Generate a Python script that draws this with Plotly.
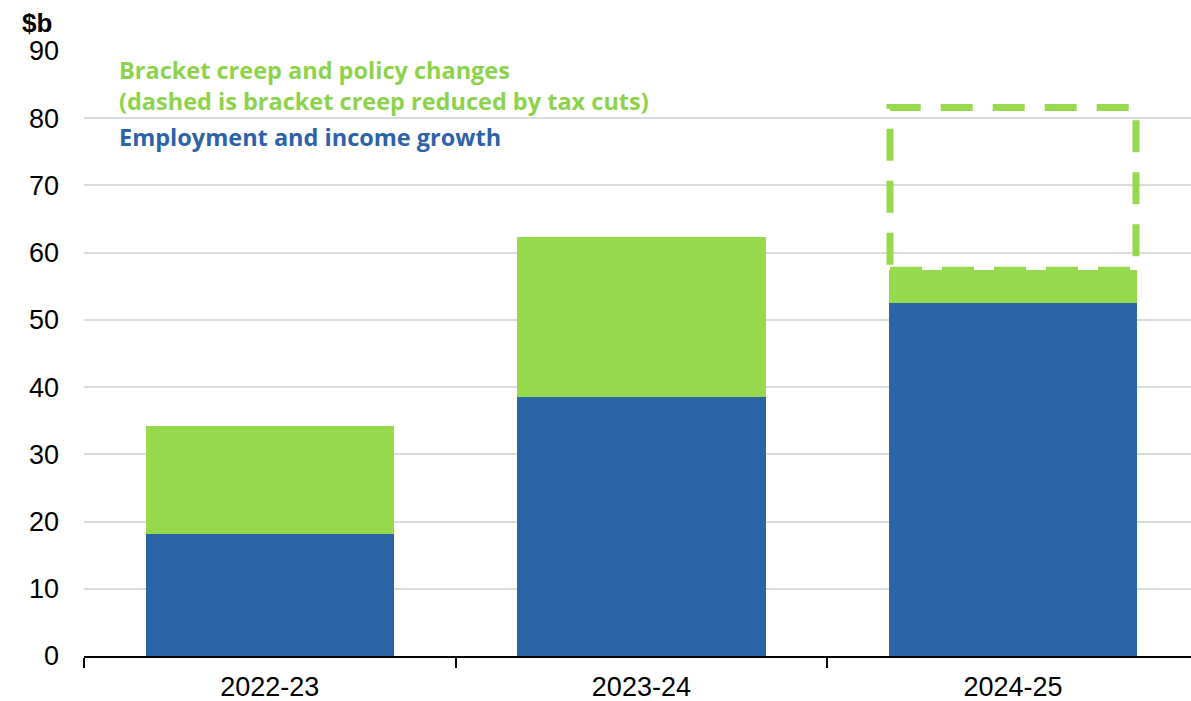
import plotly.graph_objects as go

years = ["2022-23", "2023-24", "2024-25"]
employment_income = [18.1, 38.5, 52.5]
bracket_policy = [16.1, 23.8, 4.9]
bracket_creep_gross = [None, None, 81.6]

BLUE = "#2c64a8"
GREEN = "#97d94c"
BAR_W = 0.668

fig = go.Figure()
fig.add_bar(x=years, y=employment_income, marker=dict(color=BLUE, line=dict(width=0)),
            width=BAR_W, name="Employment and income growth")
fig.add_bar(x=years, y=bracket_policy, marker=dict(color=GREEN, line=dict(width=0)),
            width=BAR_W, name="Bracket creep and policy changes")

# dashed outline for bracket creep before tax cuts
for i, v in enumerate(bracket_creep_gross):
    if v is None:
        continue
    base = employment_income[i] + bracket_policy[i]
    fig.add_shape(type="rect", xref="x", yref="y",
                  x0=i - BAR_W / 2 + 0.003, x1=i + BAR_W / 2 - 0.003, y0=base, y1=v,
                  line=dict(color=GREEN, width=7, dash="32px,20px"),
                  fillcolor="rgba(0,0,0,0)", layer="above")

W0 = 84
PW = 1191 - 84
PH = 656 - 51


def px(xp):
    return (xp - W0) / PW


def py(yp):
    return 1 - (yp - 51) / PH


fig.add_annotation(text="<b>$b</b>", xref="paper", yref="paper", x=px(54), y=py(23),
                   xanchor="right", yanchor="middle", showarrow=False,
                   font=dict(family="Liberation Sans, Arial", size=26, color="black"))
legend_font = "Open Sans"
LS = 23.5
fig.add_annotation(text="<b>Bracket creep and policy changes</b>", xref="paper", yref="paper",
                   x=px(117), y=py(70), xanchor="left", yanchor="middle", showarrow=False,
                   font=dict(family=legend_font, size=LS, color="#8dd24b"))
fig.add_annotation(text="<b>(dashed is bracket creep reduced by tax cuts)</b>", xref="paper", yref="paper",
                   x=px(117), y=py(101), xanchor="left", yanchor="middle", showarrow=False,
                   font=dict(family=legend_font, size=LS, color="#8dd24b"))
fig.add_annotation(text="<b>Employment and income growth</b>", xref="paper", yref="paper",
                   x=px(117), y=py(137), xanchor="left", yanchor="middle", showarrow=False,
                   font=dict(family=legend_font, size=LS, color="#2e62a8"))

fig.update_layout(
    width=1191, height=701,
    margin=dict(l=84, r=0, t=51, b=45),
    barmode="stack",
    showlegend=False,
    plot_bgcolor="white", paper_bgcolor="white",
    font=dict(family="Liberation Sans, Arial", size=27, color="black"),
    xaxis=dict(type="category", range=[-0.5, 2.479], showgrid=False,
               showline=True, linecolor="black", linewidth=2,
               ticks="outside", tickson="boundaries", ticklen=10, tickwidth=2, tickcolor="black",
               ticklabelstandoff=6,
               tickfont=dict(size=27, color="black")),
    yaxis=dict(range=[0, 90], dtick=10, showgrid=True, gridcolor="#d8dce0", gridwidth=1.5,
               zeroline=False, showline=False, ticks="", ticklabelstandoff=24,
               tickfont=dict(size=27, color="black")),
)

fig.write_html("out.html")
